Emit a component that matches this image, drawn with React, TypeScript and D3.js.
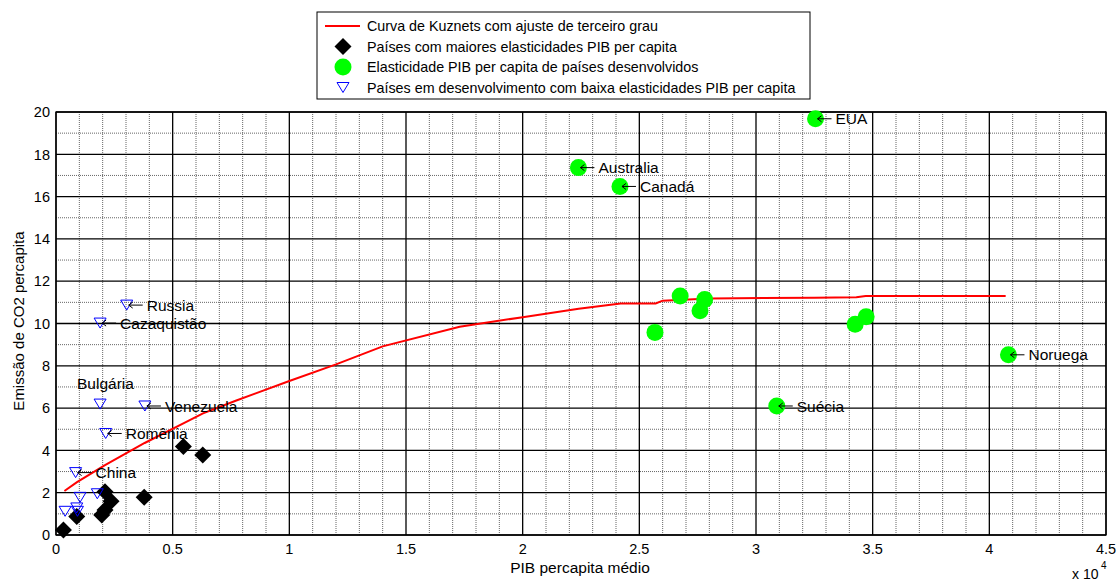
import React from "react";
import * as d3 from "d3";

// curva de Kuznets (ajuste de terceiro grau), PIB em unidades de 10^4
const curveX = [0.036, 0.09, 0.21, 0.38, 0.55, 0.63, 0.77, 1.0, 1.2, 1.4, 1.73, 2.0, 2.24, 2.42, 2.57, 2.6, 2.8, 3.25, 3.43, 3.47, 4.07];
const curveY = [2.08, 2.5, 3.3, 4.35, 5.3, 5.75, 6.35, 7.28, 8.07, 8.92, 9.85, 10.3, 10.7, 10.95, 10.95, 11.08, 11.18, 11.22, 11.24, 11.3, 11.3];

// paises com maiores elasticidades
const blackX = [0.032, 0.089, 0.196, 0.21, 0.21, 0.236, 0.378, 0.546, 0.629];
const blackY = [0.24, 0.88, 0.95, 1.18, 2.05, 1.6, 1.78, 4.18, 3.78];

// paises desenvolvidos
const greenX = [2.239, 2.417, 3.255, 2.675, 2.78, 2.76, 2.567, 3.425, 3.472, 3.089, 4.082];
const greenY = [17.37, 16.48, 19.68, 11.3, 11.14, 10.6, 9.58, 9.96, 10.32, 6.1, 8.52];

// paises em desenvolvimento
const blueX = [0.039, 0.089, 0.092, 0.103, 0.177, 0.084, 0.213, 0.189, 0.381, 0.189, 0.303];
const blueY = [1.12, 1.28, 1.12, 1.78, 1.95, 2.95, 4.8, 6.19, 6.1, 10.02, 10.87];

const labelNames = ["Russia", "Cazaquistão", "Venezuela", "Romênia", "China", "Australia", "Canadá", "EUA", "Suécia", "Noruega"];
const labelX = [0.303, 0.189, 0.381, 0.213, 0.084, 2.239, 2.417, 3.255, 3.089, 4.082];
const labelY = [10.87, 10.02, 6.1, 4.8, 2.95, 17.37, 16.48, 19.68, 6.1, 8.52];

const xTicks = [0, 0.5, 1, 1.5, 2, 2.5, 3, 3.5, 4, 4.5];
const yTicks = [0, 2, 4, 6, 8, 10, 12, 14, 16, 18, 20];

const legendItems = [
  "Curva de Kuznets com ajuste de terceiro grau",
  "Países com maiores elasticidades PIB per capita",
  "Elasticidade PIB per capita de países desenvolvidos",
  "Países em desenvolvimento com baixa elasticidades PIB per capita",
];

const font = "'Liberation Sans', Arial, sans-serif";

const diamond = (cx: number, cy: number, r: number) =>
  `M${cx},${cy - r}L${cx + r},${cy}L${cx},${cy + r}L${cx - r},${cy}Z`;
const triDown = (cx: number, cy: number, w: number, h: number) =>
  `M${cx - w / 2},${cy - h / 2}L${cx + w / 2},${cy - h / 2}L${cx},${cy + h / 2}Z`;
const arrow = (px: number, py: number) =>
  `M${px + 16},${py}L${px + 2},${py}M${px + 6},${py - 3}L${px + 2},${py}L${px + 6},${py + 3}`;

export default function App() {
  const W = 1118;
  const H = 581;
  const left = 56, right = 1106, top = 112, bottom = 535;

  const x = d3.scaleLinear().domain([0, 4.5]).range([left, right]);
  const y = d3.scaleLinear().domain([0, 20]).range([bottom, top]);

  const minorX = d3.range(0, 45).map((i) => i / 10).filter((_, i) => i % 5 !== 0);
  const minorY = d3.range(1, 20, 2);

  const line = d3
    .line<number>()
    .x((_, i) => x(curveX[i]))
    .y((d) => y(d));

  return (
    <svg width={W} height={H} style={{ position: "absolute", left: 0, top: 0, background: "#fff" }} fontFamily={font}>
      {/* minor grid */}
      {minorX.map((v) => (
        <line key={"mx" + v} x1={x(v)} x2={x(v)} y1={top} y2={bottom} stroke="#666" strokeDasharray="1,1" />
      ))}
      {minorY.map((v) => (
        <line key={"my" + v} x1={left} x2={right} y1={y(v)} y2={y(v)} stroke="#666" strokeDasharray="1,1" />
      ))}
      {/* major grid */}
      {xTicks.map((v) => (
        <line key={"gx" + v} x1={x(v)} x2={x(v)} y1={top} y2={bottom} stroke="#000" strokeWidth={1.3} />
      ))}
      {yTicks.map((v) => (
        <line key={"gy" + v} x1={left} x2={right} y1={y(v)} y2={y(v)} stroke="#000" strokeWidth={1.3} />
      ))}
      <rect x={left} y={top} width={right - left} height={bottom - top} fill="none" stroke="#000" strokeWidth={1.3} />

      {/* tick labels */}
      {xTicks.map((v) => (
        <text key={"tx" + v} x={x(v)} y={553.5} fontSize={14.5} textAnchor="middle">
          {String(v)}
        </text>
      ))}
      {yTicks.map((v) => (
        <text key={"ty" + v} x={50} y={y(v)} dy="0.36em" fontSize={14.5} textAnchor="end">
          {String(v)}
        </text>
      ))}
      <text x={1072} y={578.5} fontSize={14}>x 10</text>
      <text x={1101} y={569} fontSize={10}>4</text>
      <text x={580} y={573} fontSize={15.5} textAnchor="middle">PIB percapita médio</text>
      <text transform={`translate(24,321) rotate(-90)`} fontSize={15} textAnchor="middle">
        Emissão de CO2 percapita
      </text>

      {/* curve */}
      <path d={line(curveY) || ""} fill="none" stroke="#ff0000" strokeWidth={2} />

      {/* markers */}
      {blackX.map((v, i) => (
        <path key={"b" + i} d={diamond(x(v), y(blackY[i]), 8.5)} fill="#000" />
      ))}
      {greenX.map((v, i) => (
        <circle key={"g" + i} cx={x(v)} cy={y(greenY[i])} r={8.5} fill="#00ff00" />
      ))}
      {blueX.map((v, i) => (
        <path key={"t" + i} d={triDown(x(v), y(blueY[i]), 12, 10)} fill="none" stroke="#0000ff" strokeWidth={1} />
      ))}

      {/* labels */}
      {labelNames.map((n, i) => (
        <g key={n}>
          <path d={arrow(x(labelX[i]), y(labelY[i]))} fill="none" stroke="#000" strokeWidth={1} />
          <text x={x(labelX[i]) + 20} y={y(labelY[i])} dy="0.36em" fontSize={15.5}>
            {n}
          </text>
        </g>
      ))}
      <text x={x(0.09)} y={y(7.17)} dy="0.36em" fontSize={15.5}>Bulgária</text>

      {/* legend */}
      <g>
        <rect x={317} y={12} width={493} height={87} fill="#fff" stroke="#000" strokeWidth={1} />
        {legendItems.map((t, i) => {
          const ly = 26 + i * 20.5;
          return (
            <g key={t}>
              {i === 0 && <line x1={325} x2={360} y1={ly} y2={ly} stroke="#ff0000" strokeWidth={2} />}
              {i === 1 && <path d={diamond(343, ly, 8.5)} fill="#000" />}
              {i === 2 && <circle cx={343} cy={ly} r={8.5} fill="#00ff00" />}
              {i === 3 && <path d={triDown(343, ly, 12, 10)} fill="none" stroke="#0000ff" />}
              <text x={367} y={ly} dy="0.36em" fontSize={14.3}>
                {t}
              </text>
            </g>
          );
        })}
      </g>
    </svg>
  );
}
